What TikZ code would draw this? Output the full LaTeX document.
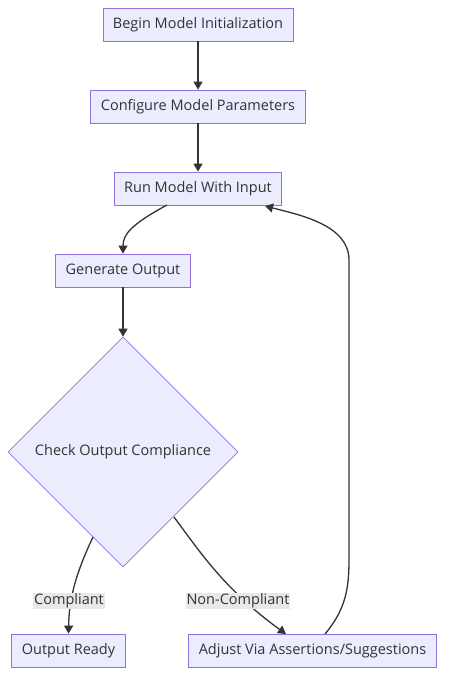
\documentclass[tikz,border=0pt]{standalone}
\usepackage{fontspec}
\setmainfont{Open Sans}
\usetikzlibrary{arrows.meta,shapes.geometric}
\definecolor{boxfill}{HTML}{ECECFF}
\definecolor{boxline}{HTML}{9370DB}
\definecolor{edgeline}{HTML}{333333}
\definecolor{labelbg}{HTML}{E8E8E8}

\begin{document}
\begin{tikzpicture}[x=1pt, y=-1pt,
    stepbox/.style={draw=boxline, fill=boxfill, line width=0.8pt, font=\fontsize{14.5}{17}\selectfont,
        inner xsep=10pt, minimum height=33pt, text=edgeline},
    checkbox/.style={diamond, draw=boxline, fill=boxfill, line width=0.6pt, font=\fontsize{14.5}{17}\selectfont,
        minimum width=230pt, minimum height=230pt, aspect=1, inner sep=0pt, text=edgeline},
    edgelabel/.style={fill=labelbg, font=\fontsize{14.5}{17}\selectfont, inner sep=1pt, text=edgeline},
    flow/.style={draw=edgeline, line width=1.3pt, -{Triangle[length=8pt, width=9pt]}}]
    \useasboundingbox (0,0) rectangle (454,687);

    % steps
    \node[stepbox] (begin) at (198,24.5) {Begin Model Initialization};
    \node[stepbox] (config) at (198,106.5) {Configure Model Parameters};
    \node[stepbox] (run) at (198,188.5) {Run Model With Input};
    \node[stepbox] (gen) at (123,270.5) {Generate Output};

    % check
    \node[checkbox] (check) at (123,452) {Check Output Compliance};

    % results
    \node[stepbox] (ready) at (68.5,650.5) {Output Ready};
    \node[stepbox] (adjust) at (312.5,650.5) {Adjust Via Assertions/Suggestions};

    % edge ends
    \coordinate (runout) at (167,205);
    \coordinate (runin) at (265,206);
    \coordinate (adjin) at (286,634);
    \coordinate (adjout) at (325,634);
    \coordinate (loopa) at (349,560);
    \coordinate (loopb) at (349,260);

    % edges
    \draw[flow] (begin) -- (config);
    \draw[flow] (config) -- (run);
    \draw[flow] (runout) .. controls (130,225) and (123,235) .. (gen.north);
    \draw[flow] (gen) -- (check);
    \draw[flow] (93,537) .. controls (75,575) and (69,600) .. (ready.north);
    \draw[flow] (174,517) .. controls (200,552) and (225,590) .. (adjin);
    \draw[flow] (adjout) .. controls (345,610) and (349,590) .. (loopa) -- (loopb)
        .. controls (349,225) and (300,215) .. (runin);

    % labels
    \node[edgelabel] (lbcomp) at (69,601) {Compliant};
    \node[edgelabel] (lbnon) at (238,601) {Non-Compliant};
\end{tikzpicture}
\end{document}
